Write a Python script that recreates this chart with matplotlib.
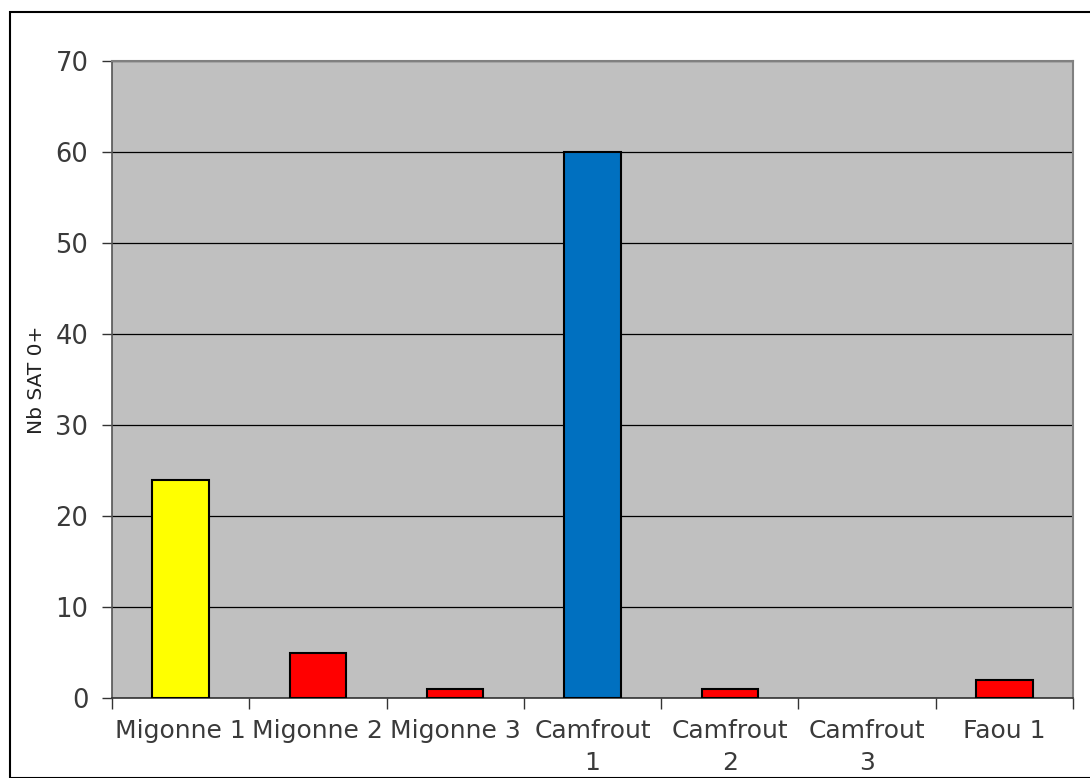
import matplotlib
matplotlib.use("Agg")
import matplotlib.pyplot as plt
from matplotlib.patches import Rectangle
import numpy as np

categories = ["Migonne 1", "Migonne 2", "Migonne 3", "Camfrout\n1", "Camfrout\n2", "Camfrout\n3", "Faou 1"]
values = [24, 5, 1, 60, 1, 0, 2]
colors = ["#FFFF00", "#FF0000", "#FF0000", "#0070C0", "#FF0000", "#FF0000", "#FF0000"]
yticks = [0, 10, 20, 30, 40, 50, 60, 70]

plt.rcParams['font.family'] = ['DejaVu Sans']

fig = plt.figure(figsize=(10.9, 7.78), dpi=100)
fig.patches.append(Rectangle((10/1090, 0), 1.2, 1 - 12/778, transform=fig.transFigure,
                             fill=False, edgecolor="black", linewidth=1.5))
ax = fig.add_axes([112/1090, 1 - 698/778, 961/1090, 637/778])
ax.set_facecolor("#C0C0C0")

x = np.arange(len(categories))
edge_lw = [1.5 if v > 0 else 0 for v in values]
ax.bar(x, values, width=0.41, color=colors, edgecolor="black", linewidth=edge_lw, zorder=3)
ax.set_xlim(-0.5, len(categories) - 0.5)
ax.set_ylim(0, 70)
ax.set_yticks(yticks)
ax.yaxis.grid(True, color="black", linewidth=0.9, zorder=1)
ax.set_axisbelow(True)

ax.set_xticks(np.arange(-0.5, len(categories), 1.0))
ax.set_xticklabels([])
ax.tick_params(axis="x", length=8, width=1, color="#333333", direction="out")
ax.tick_params(axis="y", length=7, width=1, color="#333333", direction="out",
               labelsize=18.5, labelcolor="#3a3a3a", pad=10)
for xi, lab in zip(x, categories):
    ax.text(xi, -2.3, lab, ha="center", va="top", fontsize=18, color="#3a3a3a",
            linespacing=1.45, transform=ax.transData, clip_on=False)

ax.set_ylabel("Nb SAT 0+", fontsize=14.5, color="#222222", labelpad=7)

for s in ["top", "right"]:
    ax.spines[s].set_color("#808080")
    ax.spines[s].set_linewidth(1.5)
ax.spines["left"].set_color("#555555")
ax.spines["bottom"].set_color("#333333")
ax.spines["left"].set_linewidth(1.2)
ax.spines["bottom"].set_linewidth(1.2)

fig.savefig("out.png", dpi=100)
